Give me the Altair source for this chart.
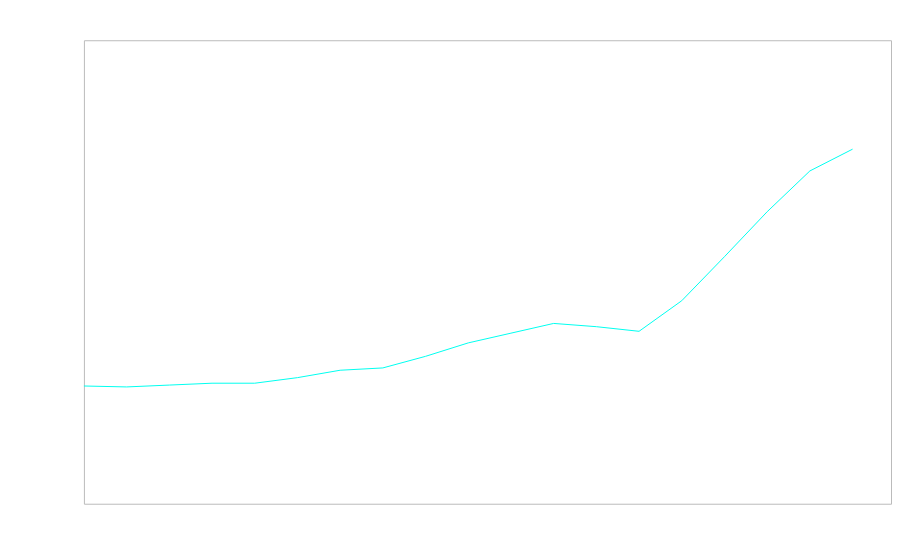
import altair as alt
import pandas as pd

years = list(range(2000, 2019))
values = [25.4, 25.2, 25.6, 26.0, 26.0, 27.2, 28.8, 29.3, 31.8, 34.7,
          36.8, 38.9, 38.2, 37.2, 43.8, 53.3, 63.0, 71.8, 76.5]

df = pd.DataFrame({"year": years, "value": values})

chart = (
    alt.Chart(df)
    .mark_line(color="#00fff0", strokeWidth=1)
    .encode(
        x=alt.X("year:Q", axis=None, scale=alt.Scale(domain=[2000, 2018.9], nice=False, zero=False)),
        y=alt.Y("value:Q", axis=None, scale=alt.Scale(domain=[0, 100], nice=False)),
    )
    .properties(
        width=808,
        height=464,
        autosize=alt.AutoSizeParams(type="none"),
        padding={"left": 76, "top": 32, "right": 1, "bottom": 2},
    )
    .configure_view(stroke="#bbbbbb", strokeWidth=1)
)

chart.save("out.html", embed_options={"renderer": "svg", "actions": False})
